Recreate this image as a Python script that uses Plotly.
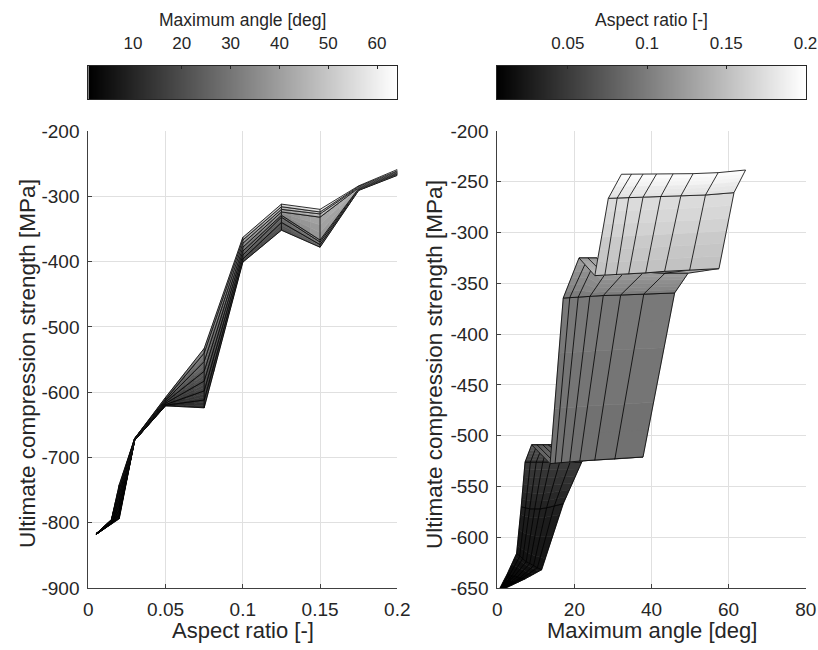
import plotly.graph_objects as go

# ------------------------------------------------------------------
# Left panel: UCS vs aspect ratio (rows), 8 surface columns, colour = maximum angle
AR_L = [0.005, 0.015, 0.02, 0.03, 0.05, 0.075, 0.1, 0.125, 0.15, 0.175, 0.2]
UCS_L = [
    [-818, -818, -818, -818, -817, -817, -817, -817],
    [-802, -801, -800, -799, -798, -797, -796, -795],
    [-794, -788, -781, -773, -765, -757, -749, -742],
    [-674, -674, -673, -673, -672, -672, -671, -671],
    [-621, -620, -619, -617, -615, -613, -611, -608],
    [-624, -612, -598, -583, -568, -553, -540, -533],
    [-401, -396, -390, -384, -378, -372, -367, -363],
    [-352, -340, -332, -329, -324, -320, -316, -312],
    [-378, -374, -370, -367, -332, -327, -324, -320],
    [-291, -290, -289, -288, -287, -286, -285, -284],
    [-268, -266, -265, -264, -263, -262, -261, -259],
]
ANG_L = [
    [0.8, 1.0, 1.2, 1.5, 1.8, 2.2, 2.7, 3.3],
    [2.5, 3.0, 3.6, 4.3, 5.1, 6.0, 7.0, 8.2],
    [3.3, 4.0, 4.8, 5.7, 6.8, 8.0, 9.4, 11.0],
    [5.0, 6.0, 7.2, 8.6, 10.2, 12.0, 14.0, 16.5],
    [8.0, 9.6, 11.5, 13.6, 16.0, 18.8, 22.0, 25.6],
    [12.0, 14.4, 17.0, 20.0, 23.5, 27.5, 32.0, 37.0],
    [16.0, 19.0, 22.5, 26.5, 31.0, 36.0, 41.5, 47.5],
    [20.0, 23.5, 27.5, 32.0, 37.0, 42.5, 48.5, 55.0],
    [24.0, 28.0, 32.5, 37.5, 43.0, 49.0, 55.0, 61.0],
    [27.0, 31.0, 35.5, 40.5, 46.0, 51.5, 57.5, 63.0],
    [30.0, 34.0, 38.5, 43.5, 49.0, 54.0, 59.5, 64.1],
]

# Right panel: UCS vs maximum angle, rows = aspect ratio (colour)
AR_R = [0.005, 0.0125, 0.02, 0.03, 0.05, 0.075, 0.09, 0.1, 0.125, 0.15, 0.175, 0.2]
ANG_R = [
    [0.7, 0.8, 1.0, 1.2, 1.4, 1.6, 1.9, 2.2],
    [2.6, 3.2, 3.8, 4.5, 5.2, 5.9, 6.6, 7.2],
    [5.0, 5.8, 6.6, 7.5, 8.4, 9.4, 10.4, 11.5],
    [6.2, 7.3, 8.4, 9.7, 11.1, 12.8, 14.8, 17.1],
    [7.2, 8.6, 10.1, 11.8, 13.8, 16.2, 18.9, 21.9],
    [8.9, 10.3, 11.8, 13.2, 15.5, 18.5, 22.0, 26.0],
    [13.7, 15.0, 16.6, 18.8, 21.4, 25.3, 30.5, 37.8],
    [17.1, 18.8, 21.0, 24.0, 27.5, 32.0, 38.0, 46.0],
    [21.2, 23.5, 25.8, 28.5, 33.0, 38.0, 43.5, 49.5],
    [25.3, 27.9, 30.9, 34.1, 38.5, 43.4, 49.9, 57.5],
    [28.8, 31.1, 34.1, 37.8, 42.4, 47.6, 54.0, 61.4],
    [32.2, 34.8, 37.8, 41.3, 45.6, 50.8, 57.3, 64.4],
]
UCS_R = [
    [-650, -650, -650, -650, -650, -650, -650, -650],
    [-636, -637, -638, -638, -639, -640, -640, -641],
    [-616, -619, -621, -624, -626, -628, -630, -632],
    [-570, -571, -572, -572, -572, -571, -569, -567],
    [-526, -526, -526, -526, -526, -526, -526, -526],
    [-509, -509, -509, -509, -509, -509, -509, -509],
    [-527.5, -527, -526.5, -526, -525, -524, -523, -521],
    [-364.5, -364, -363.5, -363, -362, -361.5, -360.5, -359.5],
    [-325, -325, -325, -338, -339, -339, -340, -340],
    [-342.4, -342, -341.5, -340.5, -339.7, -338.2, -337, -335.5],
    [-266.3, -266, -265.6, -265.2, -264.6, -264, -263, -260.7],
    [-242.6, -242.6, -242.5, -242.4, -242.2, -242, -241, -238.4],
]

# Axis ticks / colorbar ranges
XT_L = [0, 0.05, 0.1, 0.15, 0.2]
XT_L_TXT = ["0", "0.05", "0.1", "0.15", "0.2"]
YT_L = [-900, -800, -700, -600, -500, -400, -300, -200]
YT_L_TXT = ["-900", "-800", "-700", "-600", "-500", "-400", "-300", "-200"]
XT_R = [0, 20, 40, 60, 80]
XT_R_TXT = ["0", "20", "40", "60", "80"]
YT_R = [-650, -600, -550, -500, -450, -400, -350, -300, -250, -200]
YT_R_TXT = ["-650", "-600", "-550", "-500", "-450", "-400", "-350", "-300", "-250", "-200"]
CB_L_RANGE = [0.84, 64.16]
CB_L_TICKS = [10, 20, 30, 40, 50, 60]
CB_R_RANGE = [0.005, 0.2]
CB_R_TICKS = [0.05, 0.1, 0.15, 0.2]
CB_R_TXT = ["0.05", "0.1", "0.15", "0.2"]

# ------------------------------------------------------------------
W, H = 818, 650
FONT = "Liberation Sans, Arial, Helvetica, sans-serif"
TXT = "#262626"
NLEV = 64


def gray_q(c, rng):
    g = (c - rng[0]) / (rng[1] - rng[0])
    g = min(max(g, 0.0), 1.0)
    return int(round(g * (NLEV - 1)))


def qcol(q):
    v = int(round(q / (NLEV - 1) * 255))
    return f"rgb({v},{v},{v})"


def bil(M, u, v):
    return ((1 - u) * (1 - v) * M[0][0] + (1 - u) * v * M[0][1]
            + u * (1 - v) * M[1][0] + u * v * M[1][1])


fig = go.Figure()


def add_groups(groups, xa, ya):
    for q in sorted(groups):
        xs, ys = groups[q]
        c = qcol(q)
        fig.add_trace(go.Scatter(x=xs, y=ys, mode="lines", fill="toself",
                                 fillcolor=c, line=dict(color=c, width=0.6),
                                 hoverinfo="skip", showlegend=False,
                                 xaxis=xa, yaxis=ya))


def add_edges(xs, ys, xa, ya):
    fig.add_trace(go.Scatter(x=xs, y=ys, mode="lines",
                             line=dict(color="black", width=0.8),
                             hoverinfo="skip", showlegend=False,
                             xaxis=xa, yaxis=ya))


# ---- left surface: draw column strips in order (higher angle in front)
nI, nJ = len(AR_L), len(UCS_L[0])
NU, NV = 4, 3
for j in range(nJ - 1):
    groups = {}
    for i in range(nI - 1):
        X = [[AR_L[i], AR_L[i]], [AR_L[i + 1], AR_L[i + 1]]]
        Y = [[UCS_L[i][j], UCS_L[i][j + 1]], [UCS_L[i + 1][j], UCS_L[i + 1][j + 1]]]
        C = [[ANG_L[i][j], ANG_L[i][j + 1]], [ANG_L[i + 1][j], ANG_L[i + 1][j + 1]]]
        for a in range(NU):
            for b in range(NV):
                u0, u1 = a / NU, (a + 1) / NU
                v0, v1 = b / NV, (b + 1) / NV
                pts = [(u0, v0), (u0, v1), (u1, v1), (u1, v0), (u0, v0)]
                q = gray_q(bil(C, (u0 + u1) / 2, (v0 + v1) / 2), CB_L_RANGE)
                g = groups.setdefault(q, ([], []))
                g[0].extend([bil(X, u, v) for u, v in pts] + [None])
                g[1].extend([bil(Y, u, v) for u, v in pts] + [None])
    add_groups(groups, "x", "y")
    ex, ey = [], []
    for jj in (j, j + 1):
        ex += [AR_L[i] for i in range(nI)] + [None]
        ey += [UCS_L[i][jj] for i in range(nI)] + [None]
    for i in range(nI):
        ex += [AR_L[i], AR_L[i], None]
        ey += [UCS_L[i][j], UCS_L[i][j + 1], None]
    add_edges(ex, ey, "x", "y")

# ---- right surface: draw row strips in order (higher aspect ratio in front)
nI, nJ = len(AR_R), len(ANG_R[0])
NS = 6
for i in range(nI - 1):
    groups = {}
    for s in range(NS):
        t0, t1 = s / NS, (s + 1) / NS
        q = gray_q(AR_R[i] + (AR_R[i + 1] - AR_R[i]) * (t0 + t1) / 2, CB_R_RANGE)
        g = groups.setdefault(q, ([], []))
        for j in range(nJ - 1):
            X = [[ANG_R[i][j], ANG_R[i][j + 1]], [ANG_R[i + 1][j], ANG_R[i + 1][j + 1]]]
            Y = [[UCS_R[i][j], UCS_R[i][j + 1]], [UCS_R[i + 1][j], UCS_R[i + 1][j + 1]]]
            pts = [(t0, 0), (t0, 1), (t1, 1), (t1, 0), (t0, 0)]
            g[0].extend([bil(X, u, v) for u, v in pts] + [None])
            g[1].extend([bil(Y, u, v) for u, v in pts] + [None])
    add_groups(groups, "x2", "y2")
    ex, ey = [], []
    for ii in (i, i + 1):
        ex += list(ANG_R[ii]) + [None]
        ey += list(UCS_R[ii]) + [None]
    for j in range(nJ):
        ex += [ANG_R[i][j], ANG_R[i + 1][j], None]
        ey += [UCS_R[i][j], UCS_R[i + 1][j], None]
    add_edges(ex, ey, "x2", "y2")

# ---- colorbars as heatmaps
for rng, xa, ya in ((CB_L_RANGE, "x3", "y3"), (CB_R_RANGE, "x4", "y4")):
    n = 256
    edges = [rng[0] + (rng[1] - rng[0]) * k / n for k in range(n + 1)]
    vals = [(edges[k] + edges[k + 1]) / 2 for k in range(n)]
    fig.add_trace(go.Heatmap(x=edges, y=[0, 1], z=[vals], zmin=rng[0], zmax=rng[1],
                             colorscale=[[0, "black"], [1, "white"]], showscale=False,
                             hoverinfo="skip", xaxis=xa, yaxis=ya))


def px_x(p):
    return p / W


def px_y(p):
    return 1 - p / H


main_y = [px_y(588), px_y(131)]
cb_y = [px_y(99.3), px_y(65.7)]
dom_L = [px_x(88.3), px_x(397.3)]
dom_R = [px_x(497.3), px_x(805.7)]
dom_CL = [px_x(88.3), px_x(397.3)]
dom_CR = [px_x(496.5), px_x(805.5)]

tickfont = dict(family=FONT, size=19, color=TXT)
common = dict(showgrid=True, gridcolor="#e0e0e0", gridwidth=1, showline=True,
              linecolor="#404040", linewidth=1, ticks="inside", ticklen=4,
              tickcolor="#404040", tickfont=tickfont, zeroline=False,
              fixedrange=True, automargin=False)

cbcommon = dict(showgrid=False, showline=True, mirror=True, linecolor="#262626",
                linewidth=1, zeroline=False, fixedrange=True, automargin=False)

fig.update_layout(
    template="none",
    width=W, height=H, margin=dict(l=0, r=0, t=0, b=0, pad=0), autosize=False,
    paper_bgcolor="white", plot_bgcolor="white", showlegend=False,
    font=dict(family=FONT, color=TXT),
    xaxis=dict(domain=dom_L, range=[0, 0.2], tickvals=XT_L, ticktext=XT_L_TXT,
               anchor="y", ticklabelstandoff=4, **common),
    yaxis=dict(domain=main_y, range=[-900, -200], tickvals=YT_L, ticktext=YT_L_TXT,
               anchor="x", ticklabelstandoff=4, **common),
    xaxis2=dict(domain=dom_R, range=[0, 80], tickvals=XT_R, ticktext=XT_R_TXT,
                anchor="y2", ticklabelstandoff=4, **common),
    yaxis2=dict(domain=main_y, range=[-650, -200], tickvals=YT_R, ticktext=YT_R_TXT,
                anchor="x2", ticklabelstandoff=4, **common),
    xaxis3=dict(domain=dom_CL, range=CB_L_RANGE, anchor="y3", side="top",
                tickvals=CB_L_TICKS, ticks="inside", ticklen=3, tickcolor="#262626",
                ticklabelstandoff=9,
                tickfont=dict(family=FONT, size=17, color=TXT), **cbcommon),
    yaxis3=dict(domain=cb_y, range=[0, 1], anchor="x3", showticklabels=False,
                ticks="", **cbcommon),
    xaxis4=dict(domain=dom_CR, range=CB_R_RANGE, anchor="y4", side="top",
                tickvals=CB_R_TICKS, ticktext=CB_R_TXT, ticks="inside", ticklen=3,
                tickcolor="#262626", ticklabelstandoff=9,
                tickfont=dict(family=FONT, size=17, color=TXT), **cbcommon),
    yaxis4=dict(domain=cb_y, range=[0, 1], anchor="x4", showticklabels=False,
                ticks="", **cbcommon),
)

ann = []
xtitlefont = dict(family=FONT, size=22, color=TXT)
ytitlefont = dict(family=FONT, size=22.5, color=TXT)
ann.append(dict(text="Aspect ratio [-]", x=(88.3 + 397.3) / 2 / W, y=px_y(630),
                xref="paper", yref="paper", showarrow=False, font=xtitlefont,
                xanchor="center", yanchor="middle"))
ann.append(dict(text="Maximum angle [deg]", x=(497.3 + 805.7) / 2 / W, y=px_y(630),
                xref="paper", yref="paper", showarrow=False, font=xtitlefont,
                xanchor="center", yanchor="middle"))
for xc in (27, 434):
    ann.append(dict(text="Ultimate compression strength [MPa]", x=xc / W,
                    y=px_y(364), xref="paper", yref="paper", showarrow=False,
                    font=ytitlefont, textangle=-90, xanchor="center", yanchor="middle"))
cbfont = dict(family=FONT, size=17.5, color=TXT)
ann.append(dict(text="Maximum angle [deg]", x=(88.3 + 397.3) / 2 / W, y=px_y(20),
                xref="paper", yref="paper", showarrow=False, font=cbfont,
                xanchor="center", yanchor="middle"))
ann.append(dict(text="Aspect ratio [-]", x=(496.5 + 805.5) / 2 / W, y=px_y(20),
                xref="paper", yref="paper", showarrow=False, font=cbfont,
                xanchor="center", yanchor="middle"))
fig.update_layout(annotations=ann)

fig.write_html("out.html")
